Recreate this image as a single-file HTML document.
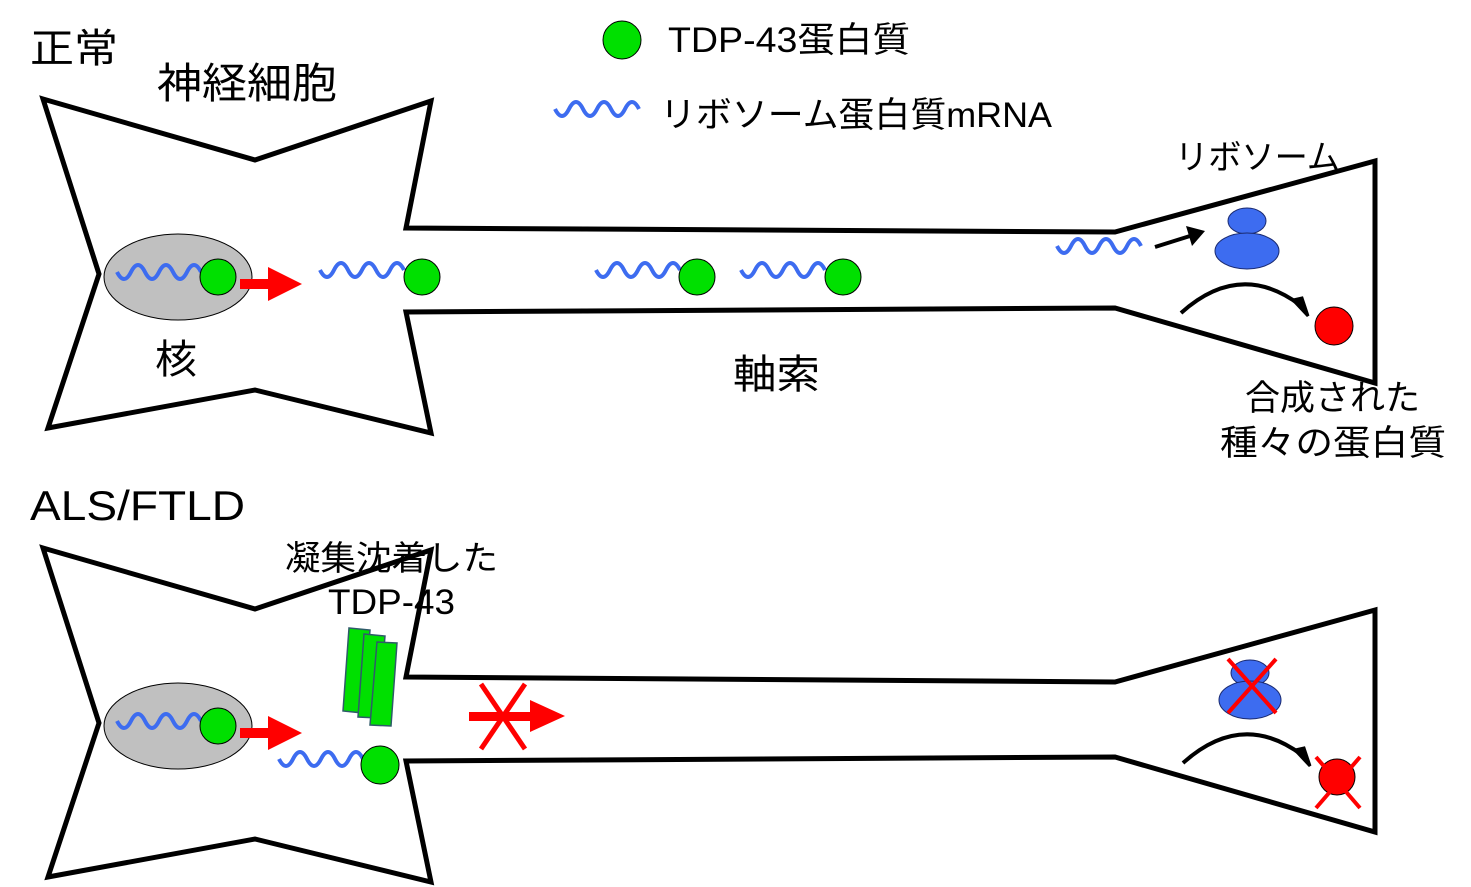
<!DOCTYPE html>
<html><head><meta charset="utf-8"><style>
html,body{margin:0;padding:0;background:#fff;}
svg{display:block;}
text{font-family:"Liberation Sans","Noto Sans CJK JP",sans-serif;fill:#000;}
</style></head><body>
<svg width="1471" height="887" viewBox="0 0 1471 887" xmlns="http://www.w3.org/2000/svg">
<!-- top neuron -->
<polygon points="43,99 255,160 431,101 406,228 1115,232 1375,161 1375,383 1115,308 406,312 431,433 255,390 48,428 99,274" fill="#fff" stroke="#000" stroke-width="5" stroke-linejoin="miter"/>
<!-- bottom neuron -->
<polygon points="43,548 255,609 431,550 406,677 1115,682 1375,610 1375,832 1115,757 406,761 431,882 255,839 48,877 99,723" fill="#fff" stroke="#000" stroke-width="5"/>

<!-- nucleus -->
<ellipse cx="178" cy="277" rx="74" ry="43" fill="#c0c0c0" stroke="#000" stroke-width="1"/>
<ellipse cx="178" cy="726" rx="74" ry="43" fill="#c0c0c0" stroke="#000" stroke-width="1"/>

<g fill="none" stroke="#3d6cf0" stroke-width="4">
<path d="M117,272 q7,14 14,0 t14,0 t14,0 t14,0 t14,0 t14,0"/>
<path d="M320,270 q7,14 14,0 t14,0 t14,0 t14,0 t14,0 t14,0"/>
<path d="M596,270 q7,14 14,0 t14,0 t14,0 t14,0 t14,0 t14,0"/>
<path d="M741,270 q7,14 14,0 t14,0 t14,0 t14,0 t14,0 t14,0"/>
<path d="M1057,246 q7,14 14,0 t14,0 t14,0 t14,0 t14,0 t14,0"/>
<path d="M555,109 q7,14 14,0 t14,0 t14,0 t14,0 t14,0 t14,0"/>
<path d="M117,721 q7,14 14,0 t14,0 t14,0 t14,0 t14,0 t14,0"/>
<path d="M279,759 q7,14 14,0 t14,0 t14,0 t14,0 t14,0 t14,0"/>
</g>

<g fill="#00e000" stroke="#000" stroke-width="1">
<circle cx="218" cy="277" r="18"/>
<circle cx="422" cy="277" r="18"/>
<circle cx="697" cy="277" r="18"/>
<circle cx="843" cy="277" r="18"/>
<circle cx="622" cy="40" r="19"/>
<circle cx="218" cy="726" r="18"/>
<circle cx="380" cy="765" r="19"/>
</g>

<!-- red arrows -->
<g fill="#f00">
<rect x="240" y="279" width="30" height="10"/>
<polygon points="268,267 302,284 268,301"/>
<rect x="240" y="728" width="30" height="10"/>
<polygon points="268,716 302,733 268,750"/>
<rect x="469" y="712" width="62" height="9"/>
<polygon points="530,700 565,716 530,732"/>
</g>
<g stroke="#f00" stroke-width="5">
<line x1="481" y1="684" x2="525" y2="749"/>
<line x1="525" y1="684" x2="481" y2="749"/>
</g>

<!-- green bars -->
<g fill="#00e000" stroke="#2f5a6a" stroke-width="1.5">
<polygon points="349,628 370,630 363,713 343,711"/>
<polygon points="364,634 385,636 378,718 358,717"/>
<polygon points="377,642 397,643 391,726 370,725"/>
</g>

<!-- ribosomes -->
<g fill="#3d6cf0" stroke="#1a2a70" stroke-width="1">
<ellipse cx="1247" cy="221" rx="19" ry="13"/>
<ellipse cx="1247" cy="251" rx="32" ry="18"/>
<ellipse cx="1250" cy="673" rx="19" ry="13"/>
<ellipse cx="1250" cy="700" rx="31" ry="19"/>
</g>
<line x1="1155" y1="247" x2="1190" y2="236" stroke="#000" stroke-width="4"/>
<polygon points="1186,226 1205,231 1192,246" fill="#000"/>
<path d="M1181,313 Q1240,260 1300,305" fill="none" stroke="#000" stroke-width="4"/>
<polygon points="1293,300 1308,316 1302,298" fill="#000" stroke="#000" stroke-width="3"/>
<path d="M1183,763 Q1242,710 1302,755" fill="none" stroke="#000" stroke-width="4"/>
<polygon points="1295,750 1310,766 1304,748" fill="#000" stroke="#000" stroke-width="3"/>
<circle cx="1334" cy="326" r="19" fill="#f00" stroke="#000" stroke-width="1"/>
<circle cx="1337" cy="777" r="18" fill="#f00" stroke="#000" stroke-width="1"/>
<g stroke="#f00" stroke-width="4">
<line x1="1228" y1="659" x2="1276" y2="713"/>
<line x1="1276" y1="659" x2="1228" y2="713"/>
<line x1="1316" y1="757" x2="1360" y2="808"/>
<line x1="1360" y1="757" x2="1316" y2="808"/>
</g>

<!-- text -->
<text x="30" y="62" font-size="40" textLength="88" lengthAdjust="spacingAndGlyphs">正常</text>
<text x="157" y="98" font-size="42" textLength="180" lengthAdjust="spacingAndGlyphs">神経細胞</text>
<text x="668" y="52" font-size="35" textLength="242" lengthAdjust="spacingAndGlyphs">TDP-43蛋白質</text>
<text x="660" y="127" font-size="35" textLength="392" lengthAdjust="spacingAndGlyphs">リボソーム蛋白質mRNA</text>
<text x="155" y="373" font-size="40" textLength="42" lengthAdjust="spacingAndGlyphs">核</text>
<text x="733" y="388" font-size="40" textLength="87" lengthAdjust="spacingAndGlyphs">軸索</text>
<text x="1175" y="169" font-size="34" textLength="165" lengthAdjust="spacingAndGlyphs">リボソーム</text>
<text x="1245" y="410" font-size="35" textLength="175" lengthAdjust="spacingAndGlyphs">合成された</text>
<text x="1220" y="455" font-size="35" textLength="226" lengthAdjust="spacingAndGlyphs">種々の蛋白質</text>
<text x="30" y="520" font-size="42" textLength="215" lengthAdjust="spacingAndGlyphs">ALS/FTLD</text>
<text x="285" y="570" font-size="34" textLength="213" lengthAdjust="spacingAndGlyphs">凝集沈着した</text>
<text x="328" y="614" font-size="35" textLength="127" lengthAdjust="spacingAndGlyphs">TDP-43</text>
</svg>
</body></html>
